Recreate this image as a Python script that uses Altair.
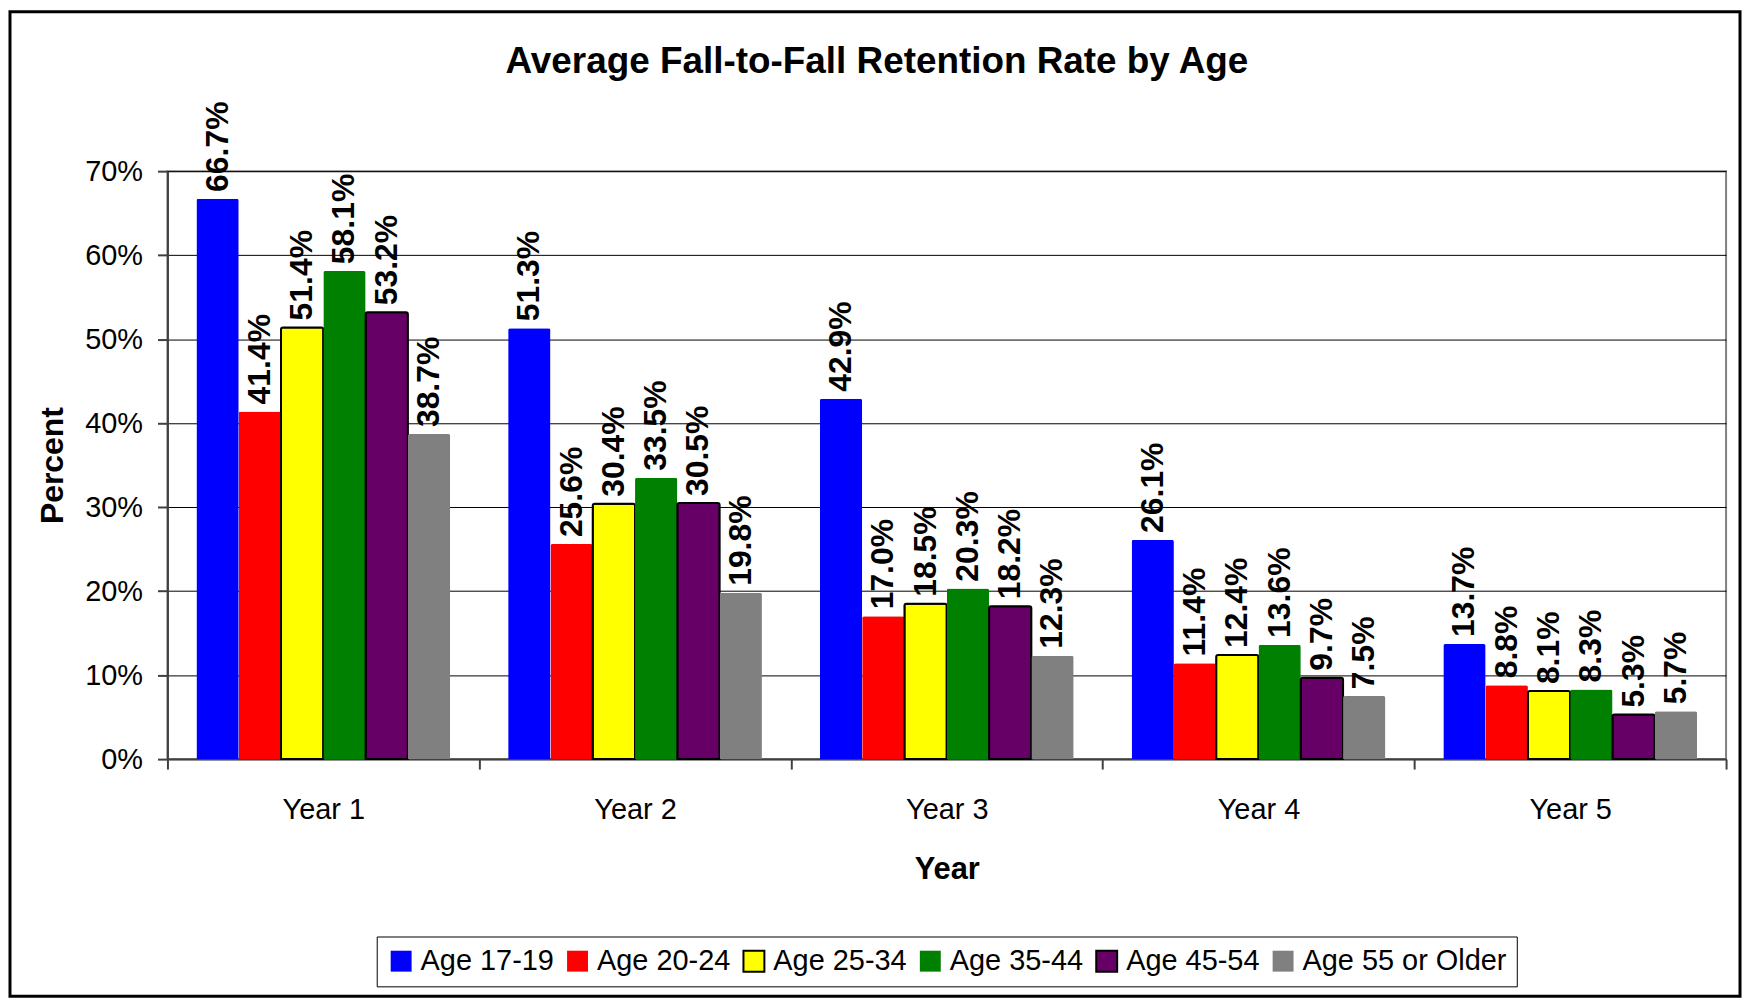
import altair as alt
import pandas as pd

years = ["Year 1", "Year 2", "Year 3", "Year 4", "Year 5"]
ages = ["Age 17-19", "Age 20-24", "Age 25-34", "Age 35-44", "Age 45-54", "Age 55 or Older"]
age_17_19 = [66.7, 51.3, 42.9, 26.1, 13.7]
age_20_24 = [41.4, 25.6, 17.0, 11.4, 8.8]
age_25_34 = [51.4, 30.4, 18.5, 12.4, 8.1]
age_35_44 = [58.1, 33.5, 20.3, 13.6, 8.3]
age_45_54 = [53.2, 30.5, 18.2, 9.7, 5.3]
age_55_up = [38.7, 19.8, 12.3, 7.5, 5.7]
colors = ["#0000FF", "#FF0000", "#FFFF00", "#008000", "#660066", "#808080"]
outlines = ["transparent", "transparent", "#000000", "transparent", "#000000", "transparent"]
y_ticks = [0, 10, 20, 30, 40, 50, 60, 70]

series = [age_17_19, age_20_24, age_25_34, age_35_44, age_45_54, age_55_up]
rows = []
for age, vals in zip(ages, series):
    for yr, v in zip(years, vals):
        rows.append({"Year": yr, "Age": age, "value": v})
df = pd.DataFrame(rows)

W, H = 1564, 590
FONT = "Liberation Sans"

x = alt.X(
    "Year:N", sort=years,
    scale=alt.Scale(paddingInner=0, paddingOuter=0),
    axis=alt.Axis(title="Year", labelAngle=0, tickBand="extent", tickSize=10,
                  labelPadding=27, titlePadding=30, labelFontSize=29, titleFontSize=31,
                  labelFont=FONT, titleFont=FONT, titleFontWeight="bold",
                  labelColor="black", titleColor="black", grid=False),
)
xoff = alt.XOffset("Age:N", sort=ages, scale=alt.Scale(paddingInner=0, paddingOuter=0.685))
y = alt.Y(
    "value:Q",
    scale=alt.Scale(domain=[0, 70], nice=False),
    axis=alt.Axis(values=y_ticks, labelExpr="datum.value + '%'", title="Percent",
                  tickSize=10, labelPadding=15, titlePadding=15, labelFontSize=29,
                  titleFontSize=32, labelFont=FONT, titleFont=FONT, titleFontWeight="bold",
                  labelColor="black", titleColor="black", grid=True),
)

legend = alt.Legend(
    title=None, orient="none", legendX=210, legendY=768, direction="horizontal",
    padding=10, strokeColor="black", fillColor="white", symbolType="square",
    symbolSize=441, symbolStrokeWidth=2, labelFontSize=29, labelFont=FONT,
    labelColor="black", columnPadding=9, labelOffset=5, labelLimit=400,
)

bars = alt.Chart(df).mark_bar(strokeWidth=2, cornerRadiusTopLeft=2, cornerRadiusTopRight=2).encode(
    x=x, xOffset=xoff, y=y,
    fill=alt.Fill("Age:N", sort=ages, scale=alt.Scale(domain=ages, range=colors), legend=legend),
    stroke=alt.Stroke("Age:N", sort=ages, scale=alt.Scale(domain=ages, range=outlines), legend=legend),
)

labels = alt.Chart(df).transform_calculate(
    label="format(datum.value, '.1f') + '%'"
).mark_text(angle=270, align="left", baseline="middle", dx=7, fontSize=32,
            fontWeight="bold", font=FONT, color="black").encode(
    x=x, xOffset=xoff, y=y, text="label:N"
)

border = alt.Chart(pd.DataFrame({"a": [0]})).mark_rect(
    fillOpacity=0, stroke="black", strokeWidth=3
).encode(x=alt.value(-158), x2=alt.value(1578), y=alt.value(-160), y2=alt.value(828))

chart = alt.layer(bars, labels, border).properties(
    width=W, height=H,
    title=alt.TitleParams("Average Fall-to-Fall Retention Rate by Age", fontSize=37,
                          fontWeight="bold", font=FONT, anchor="middle", frame="bounds",
                          baseline="alphabetic", dx=2, offset=-100, color="black"),
    autosize=alt.AutoSizeParams(type="none"),
    padding={"left": 160, "top": 162, "right": 18, "bottom": 240},
).configure_view(
    stroke="#808080", strokeWidth=2
).configure_axis(
    gridColor="#000000", gridWidth=1, domainColor="#404040", domainWidth=2,
    tickColor="#404040", tickWidth=2,
)

chart.save("out.html", embed_options={"renderer": "svg", "actions": False})
